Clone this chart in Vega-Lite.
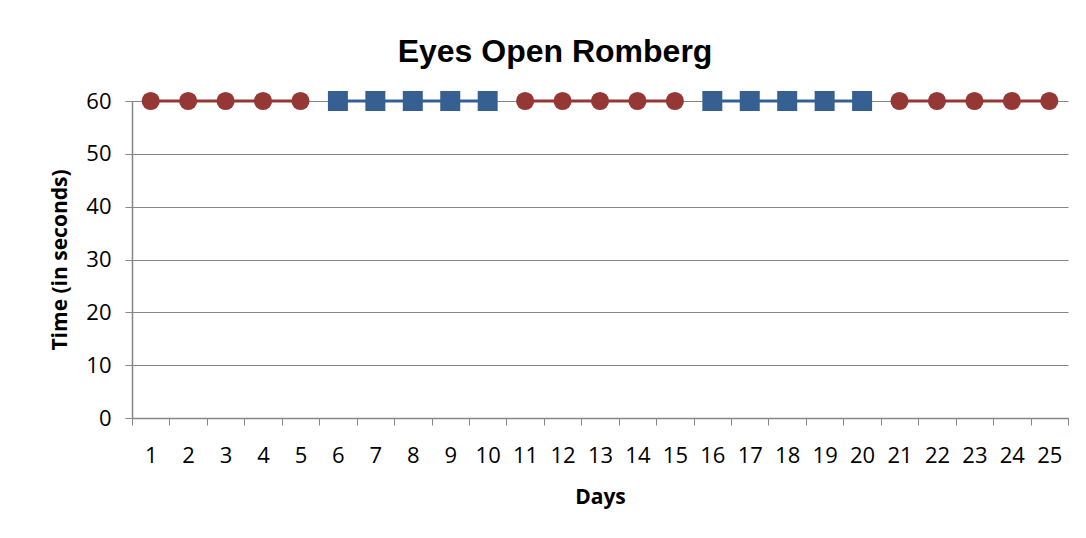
{
  "$schema": "https://vega.github.io/schema/vega-lite/v6.json",
  "autosize": {"type": "none"},
  "width": 936,
  "height": 317,
  "padding": {"left": 132, "top": 101, "right": 18, "bottom": 120},
  "background": "white",
  "config": {"view": {"stroke": null}},
  "title": {
    "text": "Eyes Open Romberg",
    "font": "Liberation Sans",
    "fontSize": 32,
    "fontWeight": "bold",
    "color": "#000000",
    "anchor": "middle",
    "baseline": "alphabetic",
    "offset": -4,
    "dx": -45
  },
  "data": {
    "values": [
      {"day": 1, "time": 60, "phase": "A", "seg": 1},
      {"day": 2, "time": 60, "phase": "A", "seg": 1},
      {"day": 3, "time": 60, "phase": "A", "seg": 1},
      {"day": 4, "time": 60, "phase": "A", "seg": 1},
      {"day": 5, "time": 60, "phase": "A", "seg": 1},
      {"day": 6, "time": 60, "phase": "B", "seg": 2},
      {"day": 7, "time": 60, "phase": "B", "seg": 2},
      {"day": 8, "time": 60, "phase": "B", "seg": 2},
      {"day": 9, "time": 60, "phase": "B", "seg": 2},
      {"day": 10, "time": 60, "phase": "B", "seg": 2},
      {"day": 11, "time": 60, "phase": "A", "seg": 3},
      {"day": 12, "time": 60, "phase": "A", "seg": 3},
      {"day": 13, "time": 60, "phase": "A", "seg": 3},
      {"day": 14, "time": 60, "phase": "A", "seg": 3},
      {"day": 15, "time": 60, "phase": "A", "seg": 3},
      {"day": 16, "time": 60, "phase": "B", "seg": 4},
      {"day": 17, "time": 60, "phase": "B", "seg": 4},
      {"day": 18, "time": 60, "phase": "B", "seg": 4},
      {"day": 19, "time": 60, "phase": "B", "seg": 4},
      {"day": 20, "time": 60, "phase": "B", "seg": 4},
      {"day": 21, "time": 60, "phase": "A", "seg": 5},
      {"day": 22, "time": 60, "phase": "A", "seg": 5},
      {"day": 23, "time": 60, "phase": "A", "seg": 5},
      {"day": 24, "time": 60, "phase": "A", "seg": 5},
      {"day": 25, "time": 60, "phase": "A", "seg": 5}
    ]
  },
  "encoding": {
    "x": {
      "field": "day",
      "type": "quantitative",
      "scale": {"domain": [0.5, 25.5], "nice": false, "zero": false},
      "axis": {
        "title": "Days",
        "values": [0.5, 1.5, 2.5, 3.5, 4.5, 5.5, 6.5, 7.5, 8.5, 9.5, 10.5, 11.5, 12.5, 13.5, 14.5, 15.5, 16.5, 17.5, 18.5, 19.5, 20.5, 21.5, 22.5, 23.5, 24.5, 25.5],
        "labelExpr": "datum.value < 25 ? format(datum.value + 0.5, 'd') : ''",
        "labelOffset": 18.72,
        "labelFlush": false,
        "labelOverlap": false,
        "grid": false,
        "tickSize": 7,
        "tickColor": "#868686",
        "domainColor": "#868686",
        "domainWidth": 1.5,
        "labelFont": "Open Sans",
        "labelFontSize": 22,
        "labelColor": "#000000",
        "labelPadding": 20,
        "titleFont": "Open Sans",
        "titleFontSize": 21,
        "titleFontWeight": "bold",
        "titleColor": "#000000",
        "titlePadding": 20
      }
    },
    "y": {
      "field": "time",
      "type": "quantitative",
      "scale": {"domain": [0, 60], "nice": false},
      "axis": {
        "title": "Time (in seconds)",
        "values": [0, 10, 20, 30, 40, 50, 60],
        "grid": true,
        "gridColor": "#868686",
        "gridWidth": 1,
        "tickSize": 7,
        "tickColor": "#868686",
        "domainColor": "#868686",
        "domainWidth": 1.5,
        "labelFont": "Open Sans",
        "labelFontSize": 22,
        "labelColor": "#000000",
        "labelPadding": 14,
        "titleFont": "Open Sans",
        "titleFontSize": 21,
        "titleFontWeight": "bold",
        "titleColor": "#000000",
        "titlePadding": 15
      }
    },
    "color": {
      "field": "phase",
      "type": "nominal",
      "scale": {"domain": ["A", "B"], "range": ["#953735", "#376092"]},
      "legend": null
    }
  },
  "layer": [
    {
      "mark": {"type": "line", "strokeWidth": 3},
      "encoding": {"detail": {"field": "seg", "type": "nominal"}}
    },
    {
      "mark": {"type": "point", "filled": true, "opacity": 1},
      "encoding": {
        "shape": {
          "field": "phase",
          "type": "nominal",
          "scale": {"domain": ["A", "B"], "range": ["circle", "square"]},
          "legend": null
        },
        "size": {
          "field": "phase",
          "type": "nominal",
          "scale": {"domain": ["A", "B"], "range": [330, 400]},
          "legend": null
        }
      }
    }
  ]
}
